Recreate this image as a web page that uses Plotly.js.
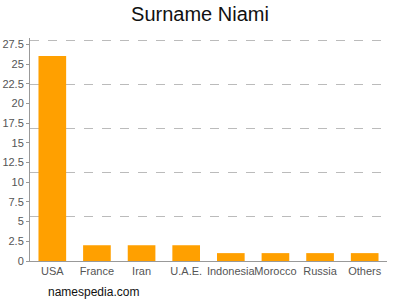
<!DOCTYPE html>
<html><head><meta charset="utf-8">
<script src="https://cdn.plot.ly/plotly-3.0.1.min.js"></script>
<style>html,body{margin:0;padding:0;background:#fff}#c{width:400px;height:300px}</style>
</head><body><div id="c"></div>
<script>
const categories = ['USA','France','Iran','U.A.E.','Indonesia','Morocco','Russia','Others'];
const counts = [26, 2, 2, 2, 1, 1, 1, 1];
const yTickVals = [0,2.5,5,7.5,10,12.5,15,17.5,20,22.5,25,27.5];
const yTickText = ['0','2.5','5','7.5','10','12.5','15','17.5','20','22.5','25','27.5'];
const gridVals = [0, 5.6, 11.2, 16.8, 22.4, 28];

const data = [{
  type: 'bar', x: categories, y: counts,
  marker: {color: '#FFA000'}, hoverinfo: 'none'
}, {
  type: 'scatter', x: categories, y: counts, yaxis: 'y2', mode: 'markers',
  marker: {opacity: 0, size: 1}, hoverinfo: 'none'
}];
const layout = {
  width: 400, height: 300,
  margin: {l: 30, r: 13, t: 38, b: 39},
  paper_bgcolor: '#fff', plot_bgcolor: '#fff',
  bargap: 0.38,
  showlegend: false,
  font: {family: 'Liberation Sans, Arial, sans-serif', color: '#555'},
  title: {text: 'Surname Niami', x: 0.5, xanchor: 'center', y: 0.953, yanchor: 'middle',
          font: {size: 20, color: '#111'}},
  xaxis: {type: 'category', showgrid: false, showline: true, linecolor: '#999', linewidth: 1,
          ticks: '', tickangle: 0, tickfont: {size: 11, color: '#555'}, fixedrange: true},
  yaxis: {range: [0, 28.3], showgrid: false, showline: true, linecolor: '#999', linewidth: 1,
          tickvals: yTickVals, ticktext: yTickText, ticks: 'outside', ticklen: 3, tickcolor: '#999',
          tickfont: {size: 11, color: '#555'}, zeroline: false, fixedrange: true},
  yaxis2: {range: [0, 28.3], overlaying: 'y', side: 'right', tickmode: 'array', tickvals: gridVals,
           showgrid: true, gridcolor: '#bbb', griddash: 'dash', gridwidth: 1,
           showticklabels: false, ticks: '', zeroline: false, showline: false, fixedrange: true},
  annotations: [{text: 'namespedia.com', xref: 'paper', yref: 'paper', x: 0.045, y: -0.1,
                 xanchor: 'left', yanchor: 'top', showarrow: false, font: {size: 12, color: '#111'}}]
};
Plotly.newPlot('c', data, layout, {displayModeBar: false, staticPlot: true});
</script></body></html>
